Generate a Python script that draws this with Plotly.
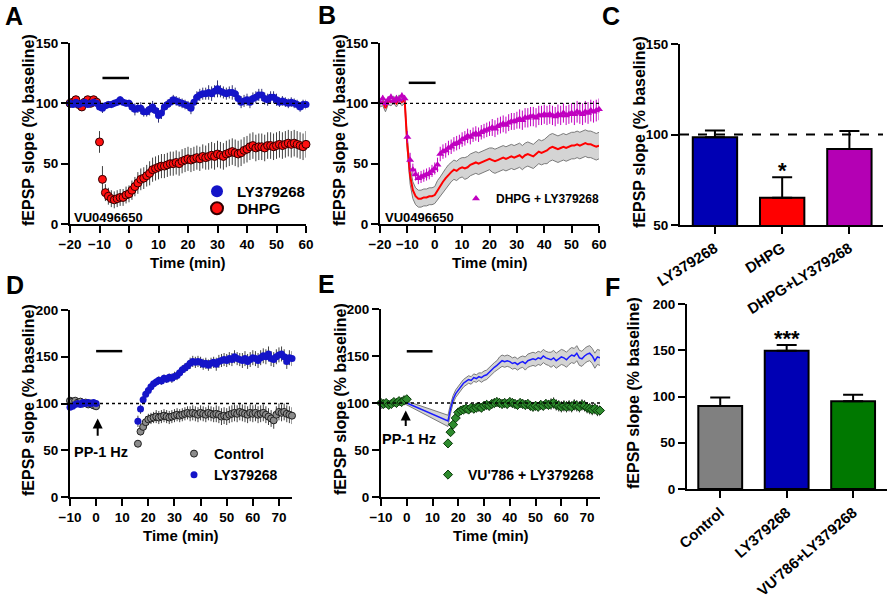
import plotly.graph_objects as go

W, H = 892, 601
FONT = "Liberation Sans, Arial, sans-serif"

# ---------------- data ----------------
# Panel A
A_time = [-20, -19, -18, -17, -16, -15, -14, -13, -12, -11,
          -10, -9, -8, -7, -6, -5, -4, -3, -2, -1, 0,
          1, 2, 3, 4, 5, 6, 7, 8, 9, 10,
          11, 12, 13, 14, 15, 16, 17, 18, 19, 20,
          21, 22, 23, 24, 25, 26, 27, 28, 29, 30,
          31, 32, 33, 34, 35, 36, 37, 38, 39, 40,
          41, 42, 43, 44, 45, 46, 47, 48, 49, 50,
          51, 52, 53, 54, 55, 56, 57, 58, 59, 60]
A_ly = [100, 99, 101, 99, 100, 101, 99, 100, 101, 100,
        97, 96, 98, 99, 99, 100, 101, 103, 101, 100, 100,
        97, 95, 96, 96, 93, 93, 95, 97, 94, 90,
        92, 97, 99, 101, 103, 102, 101, 100, 99, 98,
        96, 101, 105, 107, 108, 108, 109, 108, 110, 112,
        110, 109, 108, 109, 109, 108, 104, 101, 102, 103,
        101, 104, 105, 107, 107, 104, 103, 105, 105, 103,
        101, 102, 101, 100, 101, 100, 99, 97, 99, 99]
A_ly_err = [2, 2, 2, 2, 2, 2, 2, 2, 2, 2,
            3, 4, 3, 3, 3, 3, 3, 3, 3, 3, 3,
            4, 5, 4, 5, 4, 4, 5, 5, 4, 6,
            5, 4, 4, 4, 4, 4, 4, 4, 4, 4,
            5, 5, 5, 5, 5, 5, 6, 6, 5, 7,
            5, 5, 5, 5, 6, 5, 5, 5, 5, 5,
            5, 5, 5, 5, 5, 5, 5, 5, 5, 5,
            4, 4, 4, 4, 4, 4, 4, 4, 4, 4]
A_dhpg = [100, 101, 103, 99, 97, 101, 103, 100, 103, 101,
          68, 37, 26, 23, 21, 20, 21, 22, 22, 24, 25,
          28, 31, 34, 37, 38, 40, 42, 45, 46, 47,
          48, 48, 49, 50, 50, 51, 50, 52, 53, 54,
          53, 54, 55, 54, 56, 55, 56, 57, 56, 58,
          57, 56, 58, 59, 60, 59, 58, 59, 61, 62,
          64, 65, 63, 64, 64, 63, 65, 65, 64, 65,
          66, 65, 66, 67, 66, 67, 66, 65, 64, 66]
A_dhpg_err = [3, 3, 3, 3, 3, 3, 3, 3, 3, 3,
              9, 11, 7, 7, 7, 7, 7, 7, 7, 7, 7,
              8, 8, 9, 9, 9, 9, 10, 10, 10, 10,
              10, 10, 10, 10, 10, 10, 10, 10, 10, 10,
              10, 10, 10, 10, 10, 10, 11, 11, 11, 11,
              11, 11, 11, 11, 11, 11, 11, 11, 11, 11,
              11, 11, 11, 11, 11, 11, 11, 11, 11, 11,
              11, 11, 11, 11, 11, 11, 11, 11, 11, 11]

# Panel B
B_time = A_time
B_combo = [101, 104, 100, 103, 105, 102, 104, 103, 106, 104,
           72, 53, 45, 41, 38, 39, 40, 41, 42, 44, 46,
           49, 58, 60, 61, 63, 64, 66, 67, 68, 70,
           71, 73, 72, 74, 75, 74, 76, 77, 78, 79,
           80, 79, 81, 82, 83, 82, 84, 85, 85, 86,
           87, 86, 88, 88, 89, 89, 88, 90, 90, 91,
           90, 91, 90, 89, 91, 90, 92, 90, 91, 92,
           91, 93, 92, 91, 93, 92, 94, 93, 94, 95]
B_combo_err = [3, 3, 3, 3, 3, 3, 3, 3, 3, 3,
               5, 6, 5, 5, 5, 5, 5, 5, 5, 5, 5,
               6, 6, 6, 6, 6, 6, 6, 6, 6, 6,
               6, 6, 6, 6, 6, 6, 6, 6, 6, 6,
               7, 7, 7, 7, 7, 7, 7, 7, 7, 7,
               8, 8, 8, 8, 8, 8, 8, 8, 8, 8,
               8, 8, 8, 8, 8, 8, 8, 8, 8, 8,
               9, 9, 9, 9, 9, 9, 9, 9, 9, 9]
B_dhpg = [100, 101, 96, 102, 101, 103, 100, 104, 101, 103,
          65, 40, 28, 23, 21, 21, 22, 22, 23, 23, 24,
          28, 31, 35, 38, 41, 43, 45, 44, 46, 47,
          46, 47, 49, 50, 51, 50, 51, 52, 53, 54,
          53, 52, 53, 54, 55, 54, 55, 56, 55, 56,
          57, 55, 57, 58, 57, 56, 58, 60, 59, 60,
          61, 63, 64, 63, 62, 63, 64, 63, 64, 65,
          65, 66, 65, 66, 67, 66, 66, 65, 64, 65]
B_dhpg_sem = [3, 3, 3, 3, 3, 3, 3, 3, 3, 3,
              5, 7, 7, 7, 7, 7, 7, 7, 7, 7, 7,
              8, 8, 8, 8, 8, 8, 8, 8, 8, 8,
              9, 9, 9, 9, 9, 9, 9, 9, 9, 9,
              10, 10, 10, 10, 10, 10, 10, 10, 10, 10,
              10, 10, 10, 10, 10, 10, 10, 10, 10, 10,
              11, 11, 11, 11, 11, 11, 11, 11, 11, 11,
              11, 11, 11, 11, 11, 11, 11, 11, 11, 11]

# Panel C
C_groups = ["LY379268", "DHPG", "DHPG+LY379268"]
C_values = [98.5, 65, 92]
C_err = [3.7, 11.4, 10]
C_colors = ["#0000B4", "#FF0000", "#B400B4"]

# Panel D / E
D_time = [-10, -9, -8, -7, -6, -5, -4, -3, -2, -1, 0,
          16, 17, 18, 19, 20, 21, 22, 23, 24, 25,
          26, 27, 28, 29, 30, 31, 32, 33, 34, 35,
          36, 37, 38, 39, 40, 41, 42, 43, 44, 45,
          46, 47, 48, 49, 50, 51, 52, 53, 54, 55,
          56, 57, 58, 59, 60, 61, 62, 63, 64, 65,
          66, 67, 68, 69, 70, 71, 72, 73, 74, 75]
D_ctrl = [103, 102, 103, 101, 102, 100, 101, 99, 100, 98, 97,
          57, 70, 75, 80, 83, 84, 85, 86, 85, 86,
          87, 86, 85, 86, 87, 88, 87, 88, 89, 90,
          89, 90, 89, 88, 90, 89, 88, 90, 89, 88,
          89, 88, 86, 87, 86, 88, 89, 90, 89, 91,
          90, 89, 88, 90, 89, 90, 88, 89, 90, 88,
          86, 84, 82, 88, 91, 90, 91, 89, 88, 87]
D_ctrl_err = [2, 2, 2, 2, 2, 2, 2, 2, 2, 2, 2,
              3, 4, 5, 6, 6, 6, 6, 7, 7, 7,
              7, 7, 7, 7, 7, 7, 7, 7, 7, 7,
              8, 8, 8, 8, 8, 8, 8, 8, 8, 8,
              9, 9, 9, 9, 9, 9, 9, 9, 9, 9,
              9, 9, 9, 9, 9, 9, 9, 9, 9, 9,
              9, 9, 9, 9, 9, 9, 9, 9, 9, 9]
D_ly = [96, 97, 99, 100, 99, 101, 100, 101, 100, 101, 100,
        81, 94, 104, 110, 114, 118, 121, 123, 125, 124,
        127, 126, 128, 127, 129, 130, 133, 136, 138, 140,
        143, 145, 144, 145, 144, 142, 143, 141, 143, 144,
        142, 145, 146, 147, 146, 148, 147, 150, 148, 147,
        146, 148, 145, 147, 149, 148, 146, 149, 151, 150,
        153, 148, 147, 150, 152, 153, 150, 145, 149, 148]
D_ly_err = [2, 2, 2, 2, 2, 2, 2, 2, 2, 2, 2,
            6, 5, 4, 4, 4, 4, 4, 4, 4, 4,
            4, 4, 4, 5, 5, 5, 5, 5, 5, 5,
            6, 6, 6, 6, 6, 6, 6, 6, 6, 6,
            7, 7, 7, 7, 7, 7, 7, 7, 7, 7,
            8, 8, 8, 8, 8, 8, 8, 8, 8, 8,
            8, 8, 8, 8, 8, 8, 8, 8, 8, 8]
E_combo = [100, 99, 100, 98, 99, 101, 100, 102, 101, 103, 104,
           57, 69, 77, 84, 90, 92, 93, 94, 93, 95,
           94, 95, 96, 95, 97, 98, 97, 99, 100, 101,
           100, 99, 100, 99, 101, 100, 99, 98, 100, 99,
           98, 99, 97, 96, 97, 96, 98, 97, 99, 98,
           99, 100, 98, 97, 96, 97, 96, 97, 96, 98,
           97, 96, 98, 97, 95, 94, 93, 94, 92, 92]
E_combo_err = [2, 2, 2, 2, 2, 2, 2, 2, 2, 2, 2,
               3, 3, 3, 4, 4, 4, 4, 4, 4, 4,
               5, 5, 5, 5, 5, 5, 5, 5, 5, 5,
               5, 5, 5, 5, 5, 5, 5, 5, 5, 5,
               5, 5, 5, 5, 5, 5, 5, 5, 5, 5,
               6, 6, 6, 6, 6, 6, 6, 6, 6, 6,
               6, 6, 6, 6, 6, 6, 6, 6, 6, 6]

# Panel F
F_groups = ["Control", "LY379268", "VU'786+LY379268"]
F_values = [89.7, 149.5, 95]
F_err = [9.3, 6.2, 7]
F_colors = ["#808080", "#0000B4", "#007800"]

BLUE = "#1414C8"


# ---------------- helpers ----------------
def px_x(a, b):
    return [a / W, b / W]


def px_y(top, bottom):
    return [1 - bottom / H, 1 - top / H]


def font(size, color="black"):
    return dict(family=FONT, size=size, color=color, weight="bold")


def axis(domain, rng, anchor, tickvals=None, **kw):
    d = dict(domain=domain, range=rng, anchor=anchor, showline=True,
             linecolor="black", linewidth=2, ticks="outside", ticklen=7,
             tickwidth=2, tickcolor="black", showgrid=False, zeroline=False,
             tickfont=font(13.5), fixedrange=True, automargin=False, tickangle=0)
    if tickvals is not None:
        d["tickvals"] = tickvals
    d.update(kw)
    return d


def leg(left, top, size, **kw):
    d = dict(x=left / W, y=1 - top / H, xanchor="left", yanchor="top",
             bgcolor="rgba(0,0,0,0)", font=font(size), traceorder="normal")
    d.update(kw)
    return d


fig = go.Figure()

# ---- Panel A ----
fig.add_trace(go.Scatter(
    x=A_time, y=A_dhpg, mode="markers", name="DHPG", xaxis="x", yaxis="y",
    marker=dict(size=8, color="#FF1010", line=dict(color="#300000", width=1)),
    error_y=dict(type="data", array=A_dhpg_err, color="#404040", thickness=1, width=0),
    cliponaxis=False, legend="legend5"))
fig.add_trace(go.Scatter(
    x=A_time, y=A_ly, mode="markers", name="LY379268", xaxis="x", yaxis="y",
    marker=dict(size=7, color=BLUE),
    error_y=dict(type="data", array=A_ly_err, color="#303070", thickness=1, width=0),
    cliponaxis=False, legend="legend"))

# ---- Panel B ----
B_low = [m - s for m, s in zip(B_dhpg, B_dhpg_sem)]
B_high = [m + s for m, s in zip(B_dhpg, B_dhpg_sem)]
fig.add_trace(go.Scatter(x=B_time, y=B_low, mode="lines", xaxis="x2", yaxis="y2",
                         line=dict(color="#7a7a7a", width=1), showlegend=False))
fig.add_trace(go.Scatter(x=B_time, y=B_high, mode="lines", xaxis="x2", yaxis="y2",
                         line=dict(color="#7a7a7a", width=1), fill="tonexty",
                         fillcolor="#d4d4d4", showlegend=False))
fig.add_trace(go.Scatter(x=B_time, y=B_dhpg, mode="lines", xaxis="x2", yaxis="y2",
                         line=dict(color="#FF0000", width=2), showlegend=False))
fig.add_trace(go.Scatter(
    x=B_time, y=B_combo, mode="markers", name="DHPG + LY379268", xaxis="x2", yaxis="y2",
    marker=dict(size=7, color="#C000C0", symbol="triangle-up"),
    error_y=dict(type="data", array=B_combo_err, color="#C000C0", thickness=1, width=0),
    cliponaxis=False, legend="legend2"))

# ---- Panel C ----
fig.add_trace(go.Bar(
    x=C_groups, y=C_values, xaxis="x3", yaxis="y3", width=0.66,
    marker=dict(color=C_colors, line=dict(color="black", width=2)),
    error_y=dict(type="data", array=C_err, arrayminus=[0, 0, 0], symmetric=False,
                 color="black", thickness=2, width=10),
    showlegend=False))

# ---- Panel D ----
fig.add_trace(go.Scatter(
    x=D_time, y=D_ctrl, mode="markers", name="Control", xaxis="x4", yaxis="y4",
    marker=dict(size=7, color="#8C8C8C", line=dict(color="#202020", width=1)),
    error_y=dict(type="data", array=D_ctrl_err, color="#404040", thickness=1, width=0),
    cliponaxis=False, legend="legend3"))
fig.add_trace(go.Scatter(
    x=D_time, y=D_ly, mode="markers", name="LY379268", xaxis="x4", yaxis="y4",
    marker=dict(size=7, color=BLUE),
    error_y=dict(type="data", array=D_ly_err, color="#404040", thickness=1, width=0),
    cliponaxis=False, legend="legend3"))

# ---- Panel E ----
E_low = [m - s for m, s in zip(D_ly, D_ly_err)]
E_high = [m + s for m, s in zip(D_ly, D_ly_err)]
fig.add_trace(go.Scatter(x=D_time, y=E_low, mode="lines", xaxis="x5", yaxis="y5",
                         line=dict(color="#7a7a7a", width=1), showlegend=False))
fig.add_trace(go.Scatter(x=D_time, y=E_high, mode="lines", xaxis="x5", yaxis="y5",
                         line=dict(color="#7a7a7a", width=1), fill="tonexty",
                         fillcolor="#d4d4d4", showlegend=False))
fig.add_trace(go.Scatter(x=D_time, y=D_ly, mode="lines", xaxis="x5", yaxis="y5",
                         line=dict(color="#1A1AFF", width=1.5), showlegend=False))
fig.add_trace(go.Scatter(
    x=D_time, y=E_combo, mode="markers", name="VU'786 + LY379268", xaxis="x5", yaxis="y5",
    marker=dict(size=7, color="#2E8B2E", symbol="diamond", line=dict(color="#0A3A0A", width=1)),
    error_y=dict(type="data", array=E_combo_err, color="#303030", thickness=1, width=0),
    cliponaxis=False, legend="legend4"))

# ---- Panel F ----
fig.add_trace(go.Bar(
    x=F_groups, y=F_values, xaxis="x6", yaxis="y6", width=0.66,
    marker=dict(color=F_colors, line=dict(color="black", width=2)),
    error_y=dict(type="data", array=F_err, arrayminus=[0, 0, 0], symmetric=False,
                 color="black", thickness=2, width=10),
    showlegend=False))

# ---------------- layout ----------------
tick_time_AB = [-20, -10, 0, 10, 20, 30, 40, 50, 60]
tick_time_DE = [-10, 0, 10, 20, 30, 40, 50, 60, 70]

fig.update_layout(
    width=W, height=H, margin=dict(l=0, r=0, t=0, b=0, pad=0, autoexpand=False),
    paper_bgcolor="white", plot_bgcolor="white",
    font=font(15),
    xaxis=axis(px_x(70, 306), [-20, 60], "y", tick_time_AB),
    yaxis=axis(px_y(43, 224), [0, 150], "x", [0, 50, 100, 150]),
    xaxis2=axis(px_x(380, 599), [-20, 60], "y2", tick_time_AB),
    yaxis2=axis(px_y(43, 224), [0, 150], "x2", [0, 50, 100, 150]),
    xaxis3=axis(px_x(680, 883), [-0.52, 2.5], "y3", None, tickangle=-32, type="category",
                tickfont=font(15)),
    yaxis3=axis(px_y(44, 225), [50, 150], "x3", [50, 100, 150]),
    xaxis4=axis(px_x(70, 292), [-10, 75], "y4", tick_time_DE),
    yaxis4=axis(px_y(310, 497), [0, 200], "x4", [0, 50, 100, 150, 200]),
    xaxis5=axis(px_x(381, 600), [-10, 75], "y5", tick_time_DE),
    yaxis5=axis(px_y(309, 497), [0, 200], "x5", [0, 50, 100, 150, 200]),
    xaxis6=axis(px_x(687, 887), [-0.5, 2.51], "y6", None, tickangle=-41, type="category",
                tickfont=font(15)),
    yaxis6=axis(px_y(304, 489), [0, 200], "x6", [0, 50, 100, 150, 200]),
    legend=leg(197, 175, 15, itemsizing="constant"),
    legend5=leg(197, 192, 15, itemsizing="constant"),
    legend2=leg(456, 184, 12),
    legend3=leg(174, 438, 14),
    legend4=leg(428, 459, 14),
    showlegend=True,
)

shapes = [
    # baseline dotted lines
    dict(type="line", xref="x", yref="y", x0=-20, x1=60, y0=100, y1=100,
         line=dict(color="black", width=1.3, dash="dot")),
    dict(type="line", xref="x2", yref="y2", x0=-20, x1=60, y0=100, y1=100,
         line=dict(color="black", width=1.3, dash="dot")),
    dict(type="line", xref="x4", yref="y4", x0=-10, x1=75, y0=100, y1=100,
         line=dict(color="black", width=1.3, dash="dot")),
    dict(type="line", xref="x5", yref="y5", x0=-10, x1=75, y0=100, y1=100,
         line=dict(color="black", width=1.3, dash="dot")),
    dict(type="line", xref="x3", yref="y3", x0=-0.52, x1=2.5, y0=100, y1=100,
         line=dict(color="black", width=2, dash="dash")),
    # drug application bars
    dict(type="line", xref="x", yref="y", x0=-9, x1=0, y0=121, y1=121,
         line=dict(color="black", width=2.5)),
    dict(type="line", xref="x2", yref="y2", x0=-9.5, x1=0.3, y0=117, y1=117,
         line=dict(color="black", width=2.5)),
    dict(type="line", xref="x4", yref="y4", x0=0, x1=10, y0=156, y1=156,
         line=dict(color="black", width=2.5)),
    dict(type="line", xref="x5", yref="y5", x0=0, x1=10, y0=155, y1=155,
         line=dict(color="black", width=2.5)),
]

ann = []


def text(x, y, s, size, xref="paper", yref="paper", xanchor="center", yanchor="middle",
         angle=0, fam=FONT):
    if xref == "paper":
        x = x / W
    if yref == "paper":
        y = 1 - y / H
    ann.append(dict(x=x, y=y, xref=xref, yref=yref, text=s, showarrow=False,
                    xanchor=xanchor, yanchor=yanchor, textangle=angle,
                    font=dict(family=fam, size=size, color="black", weight="bold")))


# panel letters
for lab, lx, ly in [("A", 14, 16), ("B", 327, 15), ("C", 611, 16),
                    ("D", 15, 285), ("E", 326, 284), ("F", 612, 287)]:
    text(lx, ly, lab, 25)

# y-axis titles
YT = "fEPSP slope (% baseline)"
for tx, ty in [(28, 130), (339, 130), (639, 132), (28, 400), (340, 399), (633, 393)]:
    text(tx, ty, YT, 16, angle=-90)

# x-axis titles
for tx, ty in [(188, 262), (490, 262), (181, 535), (491, 535)]:
    text(tx, ty, "Time (min)", 15)

# in-plot labels
text(-19.2, 5, "VU0496650", 13, xref="x", yref="y", xanchor="left")
text(-19.0, 5, "VU0496650", 13, xref="x2", yref="y2", xanchor="left")
text(1, 80, "*", 22, xref="x3", yref="y3")
text(1, 163, "***", 22, xref="x6", yref="y6")
text(1.9, 48, "PP-1 Hz", 14.5, xref="x4", yref="y4")
text(0.8, 62, "PP-1 Hz", 14.5, xref="x5", yref="y5")

# stimulation arrows
ann.append(dict(x=0.6, y=84, xref="x4", yref="y4", ax=0.6, ay=64, axref="x4", ayref="y4",
                text="", showarrow=True, arrowhead=2, arrowsize=1, arrowwidth=2,
                arrowcolor="black"))
ann.append(dict(x=-0.4, y=92, xref="x5", yref="y5", ax=-0.4, ay=74, axref="x5", ayref="y5",
                text="", showarrow=True, arrowhead=2, arrowsize=1, arrowwidth=2,
                arrowcolor="black"))

fig.update_layout(shapes=shapes, annotations=ann)

fig.write_html(
    "out.html",
    config={"displayModeBar": False, "staticPlot": True},
    post_script="document.body.style.margin='0';document.body.style.overflow='hidden';",
)
